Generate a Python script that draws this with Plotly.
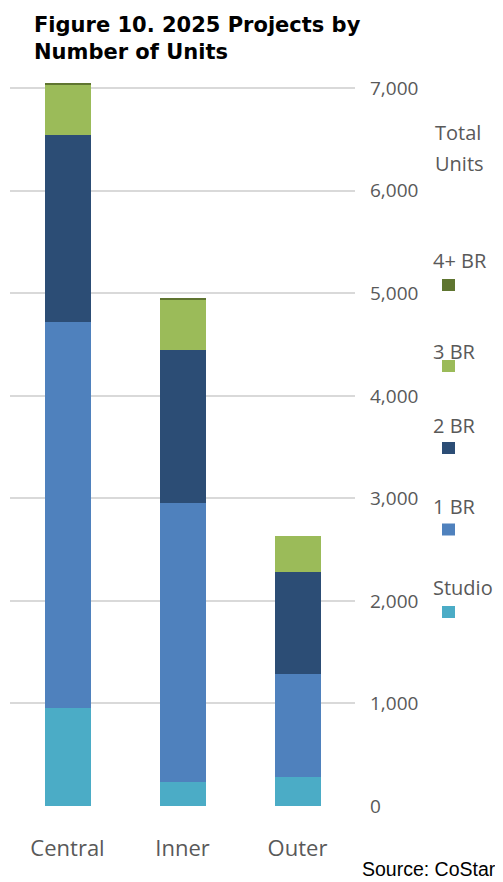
import plotly.graph_objects as go

categories = ["Central", "Inner", "Outer"]
series_names = ["Studio", "1 BR", "2 BR", "3 BR", "4+ BR"]
studio = [959, 234, 280]
br1 = [3765, 2725, 1008]
br2 = [1822, 1490, 992]
br3 = [485, 488, 354]
br4 = [20, 16, 0]
series_values = [studio, br1, br2, br3, br4]
colors = ["#4BACC6", "#4F81BD", "#2C4D75", "#9BBB59", "#5F7530"]
y_ticks = [0, 1000, 2000, 3000, 4000, 5000, 6000, 7000]
y_tick_labels = ["0", "1,000", "2,000", "3,000", "4,000", "5,000", "6,000", "7,000"]

# page offsets the figure by the body margin (8px)
OFF = 8
WIN_W, WIN_H = 503, 882
PLOT_L, PLOT_R, PLOT_T, PLOT_B = 10, 355, 78, 806   # in window pixels
W, H = WIN_W - OFF, WIN_H - OFF
ML, MR, MT, MB = PLOT_L - OFF, WIN_W - PLOT_R, PLOT_T - OFF, WIN_H - PLOT_B
PW, PH = PLOT_R - PLOT_L, PLOT_B - PLOT_T


def px(x):
    return (x - PLOT_L) / PW


def py(y):
    return (PLOT_B - y) / PH


fig = go.Figure()
for name, vals, col in zip(series_names, series_values, colors):
    fig.add_trace(go.Bar(x=categories, y=vals, name=name,
                         marker=dict(color=col, line=dict(width=0))))

gray = "#595959"
font_main = "Open Sans"

annotations = [
    dict(text="<b>Figure 10. 2025 Projects by</b>",
         x=px(32), y=py(24.5), xref="paper", yref="paper",
         xanchor="left", yanchor="middle", align="left", showarrow=False,
         font=dict(family="DejaVu Sans", size=21, color="#000000")),
    dict(text="<b>Number of Units</b>",
         x=px(32), y=py(52), xref="paper", yref="paper",
         xanchor="left", yanchor="middle", align="left", showarrow=False,
         font=dict(family="DejaVu Sans", size=21, color="#000000")),
    dict(text="Source: CoStar", x=px(498), y=py(869), xref="paper", yref="paper",
         xanchor="right", yanchor="middle", showarrow=False,
         font=dict(family="Liberation Sans", size=19.5, color="#000000")),
    dict(text="Total", x=px(433), y=py(133), xref="paper", yref="paper",
         xanchor="left", yanchor="middle", showarrow=False,
         font=dict(family=font_main, size=20, color=gray)),
    dict(text="Units", x=px(433), y=py(163), xref="paper", yref="paper",
         xanchor="left", yanchor="middle", showarrow=False,
         font=dict(family=font_main, size=20, color=gray)),
]

legend_text_y = [587.7, 506.7, 425, 351.7, 260]
legend_sq_y = [612, 529.5, 448, 366, 285]
shapes = []
for name, col, ty, sy in zip(series_names, colors, legend_text_y, legend_sq_y):
    annotations.append(dict(text=name, x=px(431), y=py(ty), xref="paper", yref="paper",
                            xanchor="left", yanchor="middle", showarrow=False,
                            font=dict(family=font_main, size=20, color=gray)))
    shapes.append(dict(type="rect", xref="paper", yref="paper",
                       x0=px(442), x1=px(455), y0=py(sy + 6), y1=py(sy - 6),
                       fillcolor=col, line=dict(width=0)))

fig.update_layout(
    barmode="stack",
    bargap=0.6,
    width=W, height=H,
    margin=dict(l=ML, r=MR, t=MT, b=MB, pad=0),
    paper_bgcolor="white", plot_bgcolor="white",
    showlegend=False,
    annotations=annotations,
    shapes=shapes,
    xaxis=dict(range=[-0.5, 2.5], showgrid=False, zeroline=False, showline=False,
               ticks="", ticklabelstandoff=27,
               tickfont=dict(family=font_main, size=22, color=gray)),
    yaxis=dict(side="right", range=[0, 7100], tickvals=y_ticks, ticktext=y_tick_labels,
               showgrid=True, gridcolor="#D9D9D9", gridwidth=1.5,
               zeroline=False, showline=False, ticks="", ticklabelstandoff=14,
               tickfont=dict(family=font_main, size=19, color=gray)),
)

fig.write_html("out.html")
